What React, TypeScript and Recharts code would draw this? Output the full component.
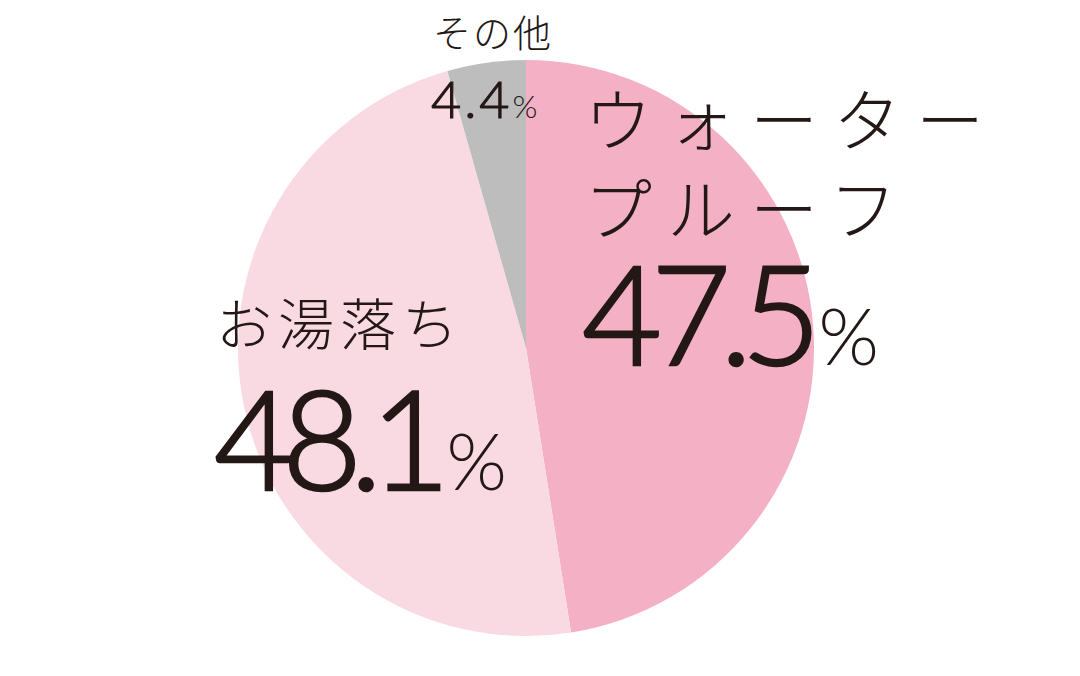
import { PieChart, Pie, Cell } from 'recharts';

const categories = ['ウォータープルーフ', 'お湯落ち', 'その他'];
const shares = [47.5, 48.1, 4.4];
const labelLines = [['ウォーター', 'プルーフ'], ['お湯落ち'], ['その他']];

const COLORS = ['#F4B0C5', '#F9D9E2', '#BDBDBD'];
const INK = '#231815';
const JP_FONT = '"Noto Sans CJK JP", sans-serif';
const NUM_FONT = 'Lato, "Noto Sans", sans-serif';

// label placement relative to the pie centre
const LABEL_LAYOUT = [
    { dx: 58, dy: -202, lineGap: 89, nameSize: 68, nameSpacing: 15, valueDy: 17, valueSize: 138, valueSpacing: -11, valueWeight: 300, valueStroke: 2.6, pctSize: 78, pctGap: 8 },
    { dx: -310, dy: -3, lineGap: 0, nameSize: 56, nameSpacing: 6, valueDy: 142, valueSize: 138, valueSpacing: -12, valueWeight: 300, valueStroke: 2.6, pctSize: 78, pctGap: 8 },
    { dx: -93, dy: -301, lineGap: 0, nameSize: 38, nameSpacing: 2, valueDy: -230, valueSize: 52, valueSpacing: 3, valueWeight: 300, valueStroke: 1.2, pctSize: 32, pctGap: 0 },
];

const data = categories.map((name, i) => ({ name, value: shares[i] }));

function SliceLabel(props: any) {
    const { cx, cy, index } = props;
    const l = LABEL_LAYOUT[index];
    const x = cx + l.dx;
    return (
        <g>
            {labelLines[index].map((line, j) => (
                <text
                    key={j}
                    x={x}
                    y={cy + l.dy + j * l.lineGap}
                    fill={INK}
                    fontFamily={JP_FONT}
                    fontWeight={300}
                    fontSize={l.nameSize}
                    letterSpacing={l.nameSpacing}
                    textAnchor="start"
                >
                    {line}
                </text>
            ))}
            <text
                x={x - 2}
                y={cy + l.valueDy}
                fill={INK}
                fontFamily={NUM_FONT}
                textAnchor="start"
            >
                <tspan
                    fontSize={l.valueSize}
                    fontWeight={l.valueWeight}
                    letterSpacing={l.valueSpacing}
                    stroke={INK}
                    strokeWidth={l.valueStroke}
                >
                    {shares[index].toFixed(1)}
                </tspan>
                <tspan fontSize={l.pctSize} fontWeight={300} dx={l.pctGap}>%</tspan>
            </text>
        </g>
    );
}

export default function App() {
    return (
        <div style={{ position: 'absolute', left: 0, top: 0, width: 1080, height: 676, background: '#fff' }}>
            <PieChart width={1080} height={676} margin={{ top: 0, right: 0, bottom: 0, left: 0 }}>
                <Pie
                    data={data}
                    dataKey="value"
                    nameKey="name"
                    cx={526}
                    cy={348}
                    outerRadius={288}
                    startAngle={90}
                    endAngle={-270}
                    stroke="none"
                    labelLine={false}
                    label={SliceLabel}
                    isAnimationActive={false}
                >
                    {data.map((entry, index) => (
                        <Cell key={`cell-${index}`} fill={COLORS[index % COLORS.length]} />
                    ))}
                </Pie>
            </PieChart>
        </div>
    );
}
